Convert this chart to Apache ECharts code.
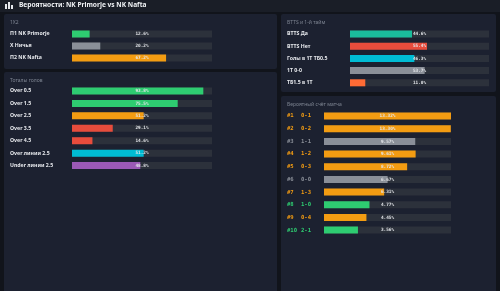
<!DOCTYPE html>
<html>
<head>
<meta charset="utf-8">
<script src="https://cdn.jsdelivr.net/npm/echarts@6/dist/echarts.min.js"></script>
<style>
  html, body { margin: 0; padding: 0; background: #11141b; }
  #chart { width: 500px; height: 291px; }
</style>
</head>
<body>
<div id="chart"></div>
<script>
// 1X2
const resultLabels = ['П1 NK Primorje', 'X Ничья', 'П2 NK Nafta'];
const resultValues = [12.6, 20.2, 67.2];
const resultColors = ['#2ecc71', '#8a8f98', '#f39c12'];

// totals
const totalLabels = ['Over 0.5', 'Over 1.5', 'Over 2.5', 'Over 3.5', 'Over 4.5', 'Over линии 2.5', 'Under линии 2.5'];
const totalValues = [93.8, 75.5, 51.2, 29.1, 14.6, 51.2, 48.8];
const totalColors = ['#2ecc71', '#2ecc71', '#f39c12', '#e74c3c', '#e74c3c', '#00bcd4', '#9b59b6'];

// btts / first half
const bttsLabels = ['BTTS Да', 'BTTS Нет', 'Голы в 1Т ТБ0.5', '1Т 0-0', 'ТБ1.5 в 1Т'];
const bttsValues = [44.6, 55.4, 46.3, 53.7, 11.0];
const bttsColors = ['#1abc9c', '#e74c3c', '#00bcd4', '#8a8f98', '#ff6b35'];

// likely scores
const scoreRanks = ['#1', '#2', '#3', '#4', '#5', '#6', '#7', '#8', '#9', '#10'];
const scoreLabels = ['0-1', '0-2', '1-1', '1-2', '0-3', '0-0', '1-3', '1-0', '0-4', '2-1'];
const scoreValues = [13.32, 13.30, 9.57, 9.61, 8.72, 6.67, 6.31, 4.77, 4.45, 3.56];
const scoreColors = ['#f39c12', '#f39c12', '#8a8f98', '#f39c12', '#f39c12', '#8a8f98', '#f39c12', '#2ecc71', '#f39c12', '#2ecc71'];

const TRACK = '#2c313b';
const TEXT = '#e6e8ec';
const MUTED = '#7d8491';

const chart = echarts.init(document.getElementById('chart'));

const grids = [];
const xAxes = [];
const yAxes = [];
const series = [];

function addBlock(box, labels, values, colors, max, digits, labelOpts) {
  const i = grids.length;
  grids.push({ left: box.left, top: box.top, width: box.width, height: box.height });
  xAxes.push({ gridIndex: i, type: 'value', min: 0, max: max, show: false });
  yAxes.push({
    gridIndex: i, type: 'category', data: labels, inverse: true,
    axisLine: { show: false }, axisTick: { show: false },
    axisLabel: Object.assign({
      align: 'left', margin: box.left - box.labelX,
      color: TEXT, fontSize: 5.2, fontWeight: 'bold', fontFamily: 'Noto Sans'
    }, labelOpts || {})
  });
  series.push({
    type: 'bar', xAxisIndex: i, yAxisIndex: i, barWidth: 7, z: 2,
    showBackground: true,
    backgroundStyle: { color: TRACK },
    data: values.map((v, k) => ({ value: v, itemStyle: { color: colors[k] } })),
    silent: true, animation: false
  });
  // transparent full-length bar carrying the centred value text
  series.push({
    type: 'bar', xAxisIndex: i, yAxisIndex: i, barWidth: 7, barGap: '-100%', z: 3,
    data: values.map(() => max),
    itemStyle: { color: 'rgba(0,0,0,0)' },
    label: {
      show: true, position: 'inside', color: '#e4e6ea', fontSize: 4.4,
      fontWeight: 'bold', fontFamily: 'DejaVu Sans Mono',
      formatter: (p) => values[p.dataIndex].toFixed(digits) + '%'
    },
    silent: true, animation: false
  });
}

addBlock({ left: 72, top: 28, width: 140, height: 36, labelX: 10 },
  resultLabels, resultValues, resultColors, 100, 1);
addBlock({ left: 72, top: 84.8, width: 140, height: 87, labelX: 10 },
  totalLabels, totalValues, totalColors, 100, 1);
addBlock({ left: 350, top: 27.9, width: 139, height: 61, labelX: 287 },
  bttsLabels, bttsValues, bttsColors, 100, 1);

const scoreAxis = scoreRanks.map((r, k) => '{c' + k + '|' + r + '}{s' + k + '|' + scoreLabels[k] + '}');
const rich = {};
scoreColors.forEach((c, k) => {
  rich['c' + k] = { color: c, fontSize: 5.6, fontWeight: 'bold', fontFamily: 'DejaVu Sans Mono', width: 14 };
  rich['s' + k] = { color: c, fontSize: 5.6, fontWeight: 'bold', fontFamily: 'DejaVu Sans Mono' };
});
addBlock({ left: 324, top: 109.7, width: 127, height: 126.7, labelX: 287 },
  scoreAxis, scoreValues, scoreColors, Math.max(...scoreValues), 2, { rich: rich });

function panel(x, y, w, h) {
  return { type: 'rect', shape: { x: x, y: y, width: w, height: h, r: 2 }, style: { fill: '#1c2130' }, z: -10, silent: true };
}
function caption(x, y, text) {
  return { type: 'text', x: x, y: y, style: { text: text, fill: MUTED, fontSize: 5, fontFamily: 'Noto Sans' }, z: 5, silent: true };
}

const graphic = [
  { type: 'rect', shape: { x: 0, y: 0, width: 500, height: 12 }, style: { fill: '#1a1e27' }, z: -10, silent: true },
  // small bar-chart icon
  { type: 'rect', shape: { x: 5, y: 4, width: 2, height: 5 }, style: { fill: '#e6e8ec' }, silent: true },
  { type: 'rect', shape: { x: 8, y: 2, width: 2, height: 7 }, style: { fill: '#e6e8ec' }, silent: true },
  { type: 'rect', shape: { x: 11, y: 5, width: 2, height: 4 }, style: { fill: '#e6e8ec' }, silent: true },
  { type: 'text', x: 19, y: 1.5, style: { text: 'Вероятности: NK Primorje vs NK Nafta', fill: '#f0f2f5', fontSize: 6.6, fontWeight: 'bold', fontFamily: 'Noto Sans' }, silent: true },
  panel(4, 14, 273, 55),
  panel(4, 72, 273, 225),
  panel(281, 14, 215, 78),
  panel(281, 96, 215, 201),
  caption(10, 20, '1X2'),
  caption(10, 78, 'Тоталы голов'),
  caption(287, 20, 'BTTS и 1-й тайм'),
  caption(287, 102, 'Вероятный счёт матча')
];

chart.setOption({
  backgroundColor: '#11141b',
  animation: false,
  grid: grids,
  xAxis: xAxes,
  yAxis: yAxes,
  series: series,
  graphic: graphic
});
</script>
</body>
</html>
